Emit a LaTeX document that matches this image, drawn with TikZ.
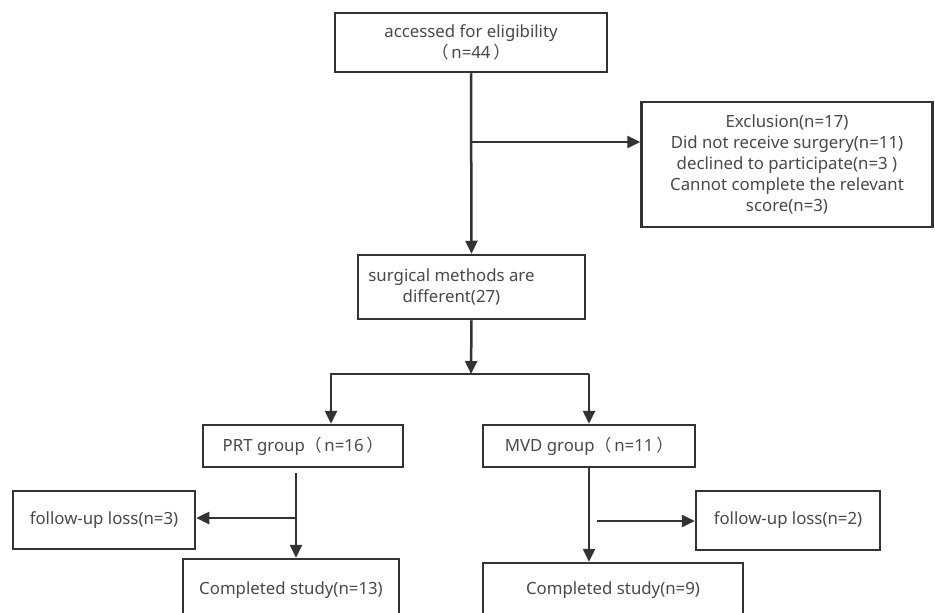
\documentclass[tikz,border=0pt]{standalone}
\usepackage{fontspec}
\setmainfont{Noto Sans}
\newfontfamily\cjk{Noto Sans CJK SC}
\usepackage{tikz}
\usetikzlibrary{arrows,arrows.meta}
\tikzset{>={Triangle[length=13pt,width=12pt]}}
\usepackage{xcolor}
\definecolor{linecol}{HTML}{333333}
\definecolor{textcol}{HTML}{484848}
\tikzstyle{flowbox}=[draw=linecol,line width=2.5pt,text=textcol,align=center,inner sep=0pt,
  font=\fontsize{16.8}{20.8}\selectfont]
\tikzstyle{flowline}=[->,draw=linecol,line width=2.5pt]

\begin{document}
\begin{tikzpicture}[x=1pt,y=-1pt]
  \useasboundingbox (0,0) rectangle (935,613);
  \clip (0,0) rectangle (935,613);

  \node[flowbox,minimum width=272pt,minimum height=59pt] (access) at (471,42.5)
       {accessed for eligibility\\{\cjk （}\,n=44\,{\cjk ）}};
  \node[flowbox,minimum width=291pt,minimum height=125pt] (excl) at (787,164.5)
       {Exclusion(n=17)\\Did not receive surgery(n=11)\\declined to participate(n=3 )\\
        Cannot complete the relevant\\score(n=3)};
  \node[flowbox,minimum width=227pt,minimum height=64pt] (method) at (471.5,287)
       {surgical methods are\hspace*{40pt}\\different(27)\hspace*{40pt}};
  \node[flowbox,minimum width=200pt,minimum height=42pt] (prt) at (303,446)
       {PRT group{\cjk （}\,n=16\,{\cjk ）}};
  \node[flowbox,minimum width=212pt,minimum height=42pt] (mvd) at (589,446)
       {MVD group{\cjk （}\,n=11\,{\cjk ）}};
  \node[flowbox,minimum width=182pt,minimum height=58pt] (lossA) at (104,520)
       {follow-up loss(n=3)};
  \node[flowbox,minimum width=184pt,minimum height=59pt] (lossB) at (788,520.5)
       {follow-up loss(n=2)};
  \node[flowbox,minimum width=216pt,minimum height=62pt] (doneA) at (291,590)
       {Completed study(n=13)};
  \node[flowbox,minimum width=260pt,minimum height=54pt] (doneB) at (613,590)
       {Completed study(n=9)};

  % junctions
  \coordinate (exJ) at (471,142);
  \coordinate (split) at (471,374);
  \coordinate (splitL) at (331,374);
  \coordinate (splitR) at (589,374);
  \coordinate (prtTop) at (296,473);
  \coordinate (prtJ) at (296,518);
  \coordinate (mvdJ) at (597,521);

  \draw[flowline] (access.south) -- (method.north);
  \draw[flowline] (exJ) -- (exJ -| excl.west);
  \draw[flowline] (method.south) -- (split);
  \draw[flowline] (splitR) -- (splitL) -- (splitL |- prt.north);
  \draw[flowline] (splitR) -- (mvd.north);

  \draw[flowline] (prtTop) -- (prtTop |- doneA.north);
  \draw[flowline] (prtJ) -- (prtJ -| lossA.east);
  \draw[flowline] (mvd.south) -- (mvd.south |- doneB.north);
  \draw[flowline] (mvdJ) -- (mvdJ -| lossB.west);
\end{tikzpicture}
\end{document}
